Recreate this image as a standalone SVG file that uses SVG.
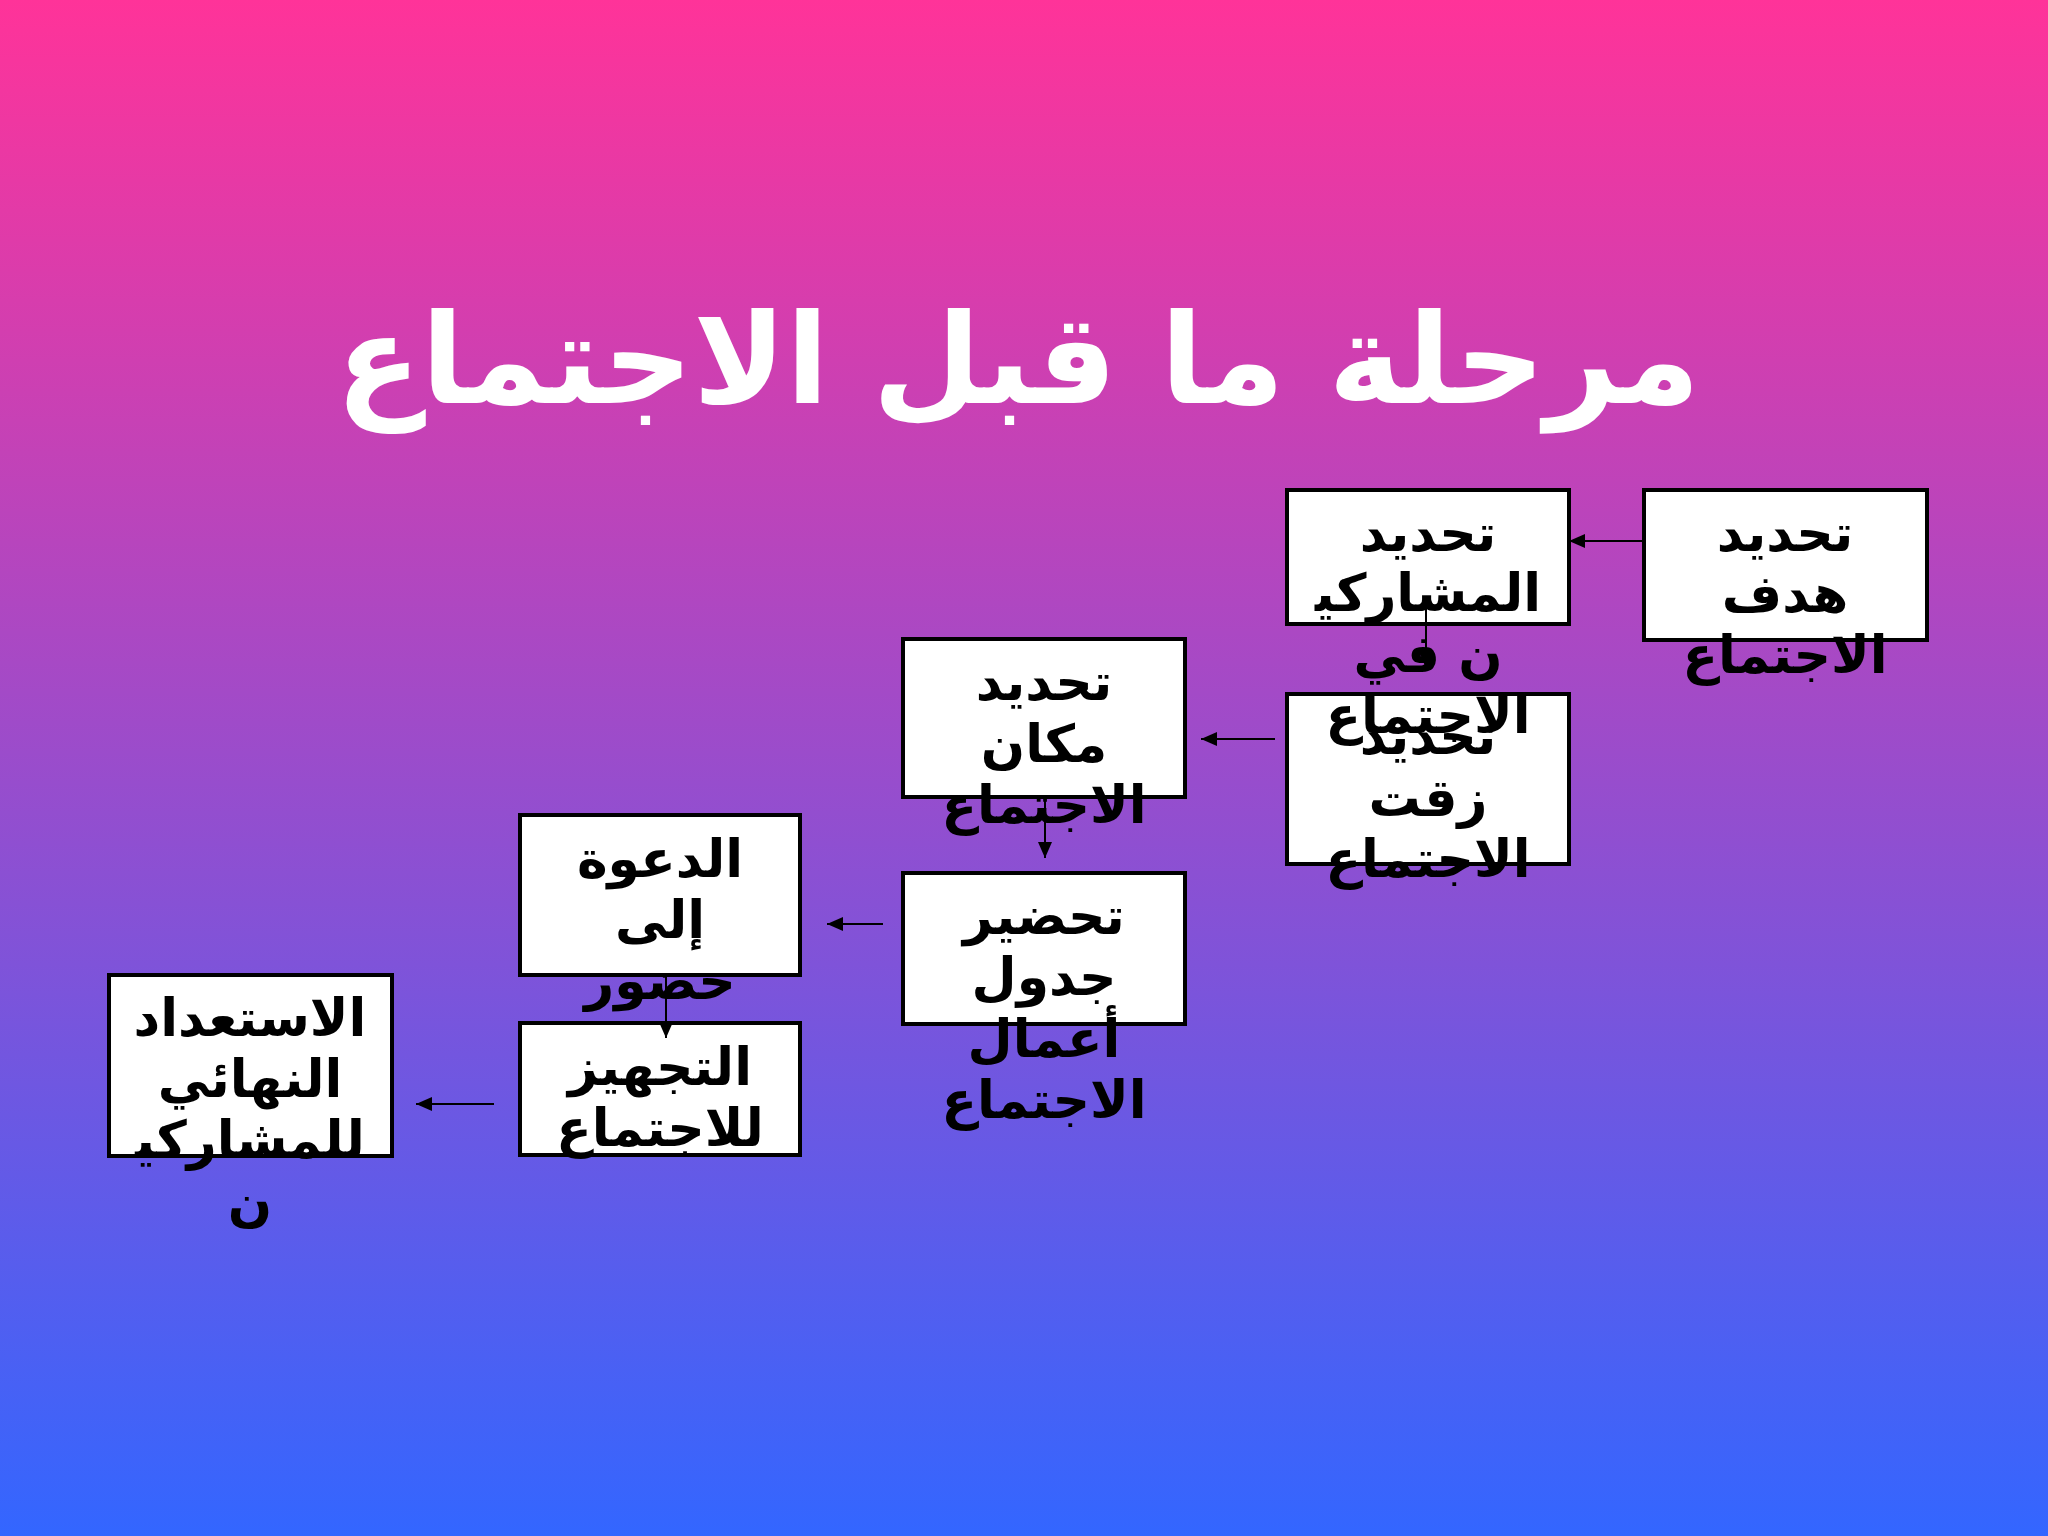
<svg xmlns="http://www.w3.org/2000/svg" width="2048" height="1536" viewBox="0 0 2048 1536">
<defs>
<linearGradient id="bg" x1="0" y1="0" x2="0" y2="1">
<stop offset="0" stop-color="#FF3399"/>
<stop offset="1" stop-color="#3366FF"/>
</linearGradient>
<marker id="arr" viewBox="0 0 16 14" refX="16" refY="7" markerWidth="16" markerHeight="14" markerUnits="userSpaceOnUse" orient="auto">
<path d="M0,0 L16,7 L0,14 Z" fill="#000"/>
</marker>
<style>
.box{fill:#fff;stroke:#000;stroke-width:4}
.t{font-family:"DejaVu Sans",sans-serif;font-weight:bold;font-size:52px;fill:#000;text-anchor:middle;direction:rtl}
.title{font-family:"DejaVu Sans",sans-serif;font-weight:bold;font-size:125px;fill:#fff;text-anchor:middle;direction:rtl}
.c{stroke:#000;stroke-width:2;fill:none;marker-end:url(#arr)}
</style>
</defs>
<rect x="0" y="0" width="2048" height="1536" fill="url(#bg)"/>
<text class="title" x="1018" y="403">مرحلة ما قبل الاجتماع</text>
<g id="n1">
<rect class="box" x="1644" y="490" width="283" height="150"/>
<text class="t" x="1785" y="551">تحديد</text>
<text class="t" x="1785" y="612">هدف</text>
<text class="t" x="1785" y="673">الاجتماع</text>
</g>
<g id="n3">
<rect class="box" x="1287" y="694" width="282" height="170"/>
<text class="t" x="1428" y="754">تحديد</text>
<text class="t" x="1428" y="816">زقت</text>
<text class="t" x="1428" y="877">الاجتماع</text>
</g>
<g id="n2">
<rect class="box" x="1287" y="490" width="282" height="134"/>
<text class="t" x="1428" y="551">تحديد</text>
<text class="t" x="1428" y="611">المشاركي&#x200D;</text>
<text class="t" x="1428" y="672">ن في</text>
<text class="t" x="1428" y="733">الاجتماع</text>
</g>
<g id="n4">
<rect class="box" x="903" y="639" width="282" height="158"/>
<text class="t" x="1044" y="700">تحديد</text>
<text class="t" x="1044" y="762">مكان</text>
<text class="t" x="1044" y="823">الاجتماع</text>
</g>
<g id="n5">
<rect class="box" x="903" y="873" width="282" height="151"/>
<text class="t" x="1044" y="934">تحضير</text>
<text class="t" x="1044" y="995">جدول</text>
<text class="t" x="1044" y="1057">أعمال</text>
<text class="t" x="1044" y="1118">الاجتماع</text>
</g>
<g id="n6">
<rect class="box" x="520" y="815" width="280" height="160"/>
<text class="t" x="660" y="877">الدعوة</text>
<text class="t" x="660" y="938">إلى</text>
<text class="t" x="660" y="999">حضور</text>
</g>
<g id="n7">
<rect class="box" x="520" y="1023" width="280" height="132"/>
<text class="t" x="660" y="1085">التجهيز</text>
<text class="t" x="660" y="1146">للاجتماع</text>
</g>
<g id="n8">
<rect class="box" x="109" y="975" width="283" height="181"/>
<text class="t" x="250" y="1036">الاستعداد</text>
<text class="t" x="250" y="1097">النهائي</text>
<text class="t" x="250" y="1158">للمشاركي&#x200D;</text>
<text class="t" x="250" y="1220">ن</text>
</g>
<g id="connectors">
<line class="c" x1="1644" y1="541" x2="1569" y2="541"/>
<line class="c" x1="1426" y1="606" x2="1426" y2="668"/>
<line class="c" x1="1275" y1="739" x2="1201" y2="739"/>
<line class="c" x1="1045" y1="797" x2="1045" y2="858"/>
<line class="c" x1="883" y1="924" x2="827" y2="924"/>
<line class="c" x1="666" y1="975" x2="666" y2="1038"/>
<line class="c" x1="494" y1="1104" x2="416" y2="1104"/>
</g>
</svg>
